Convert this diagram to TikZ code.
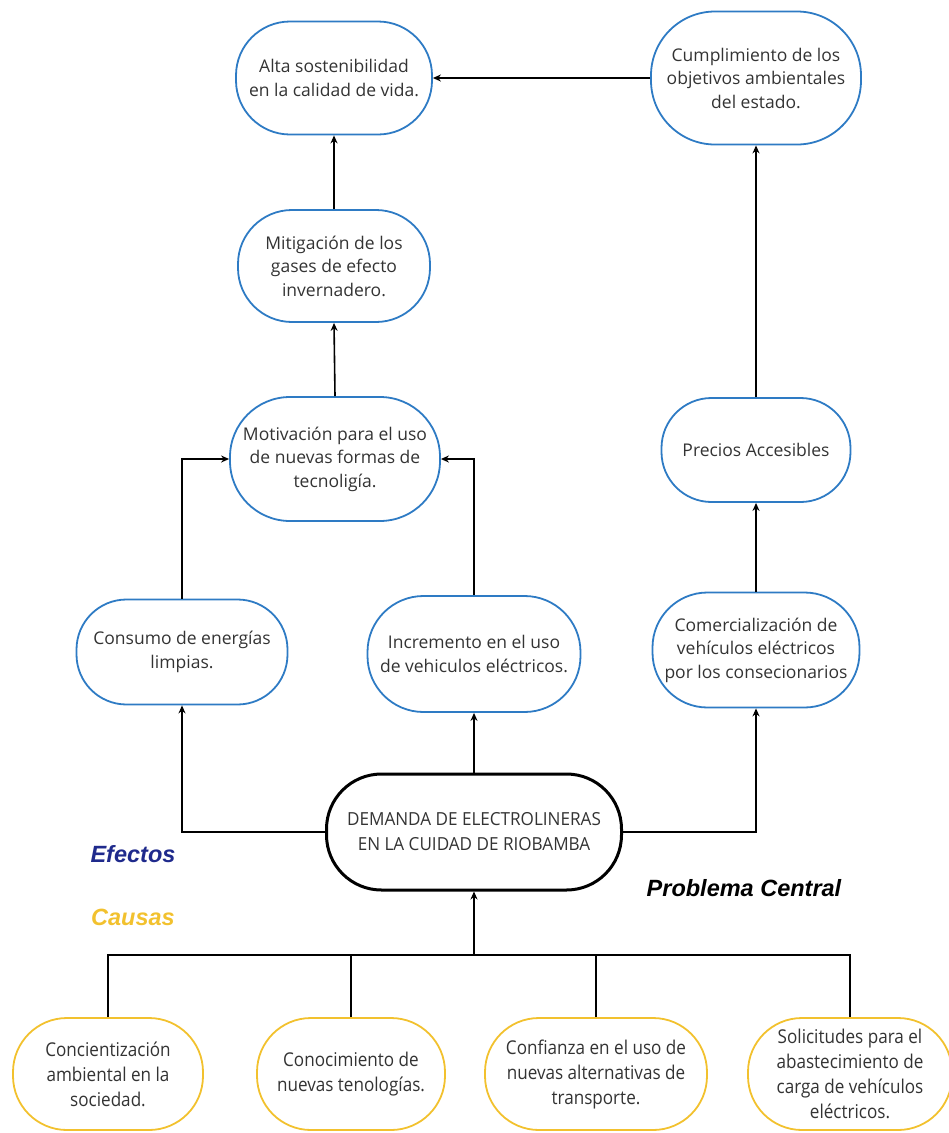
\documentclass[tikz,border=0pt]{standalone}
\usepackage{fontspec}
\setmainfont{Open Sans}
\newfontfamily\condfont[FakeStretch=0.9]{Open Sans}
\newfontfamily\centfont[FakeStretch=0.95]{Open Sans}
\newfontfamily\labfont{Liberation Sans}
\usetikzlibrary{arrows.meta}
\definecolor{nblue}{HTML}{2E7BC4}
\definecolor{ngold}{HTML}{F2C12E}
\definecolor{efblue}{HTML}{1F2A8C}
\definecolor{txt}{HTML}{333333}
\begin{document}
\begin{tikzpicture}[x=1pt,y=-1pt,
  bnode/.style={draw=nblue,line width=1.8pt,align=center,
    text=txt,font=\fontsize{17.5}{23.5}\selectfont,inner sep=0pt},
  gnode/.style={draw=ngold,line width=1.8pt,rounded corners=54pt,align=center,
    text=txt,font=\condfont\fontsize{19}{25}\selectfont,inner sep=0pt},
  cnode/.style={draw=black,line width=3pt,rounded corners=55pt,align=center,
    text=txt,font=\centfont\fontsize{18}{25}\selectfont,inner sep=0pt},
  arr/.style={line width=1.6pt,-{Stealth[length=8pt,width=7pt]}},
  ln/.style={line width=1.6pt},
  lab/.style={font=\labfont\bfseries\itshape\fontsize{23.5}{28}\selectfont}]
\useasboundingbox (0,0) rectangle (949,1133);
% effects
\node[bnode,rounded corners=54pt,minimum width=196pt,minimum height=113pt] (alta) at (334,78) {Alta sostenibilidad\\en la calidad de vida.};
\node[bnode,rounded corners=64pt,minimum width=210pt,minimum height=133pt] (cump) at (756,78) {Cumplimiento de los\\objetivos ambientales\\del estado.};
\node[bnode,rounded corners=54pt,minimum width=192pt,minimum height=112pt] (miti) at (334,266) {Mitigación de los\\gases de efecto\\invernadero.};
\node[bnode,rounded corners=60pt,minimum width=210pt,minimum height=124pt] (moti) at (335,459) {Motivación para el uso\\de nuevas formas de\\tecnoligía.};
\node[bnode,rounded corners=50pt,minimum width=189pt,minimum height=104pt] (prec) at (756,450) {Precios Accesibles};
\node[bnode,rounded corners=50pt,minimum width=211pt,minimum height=105pt] (cons) at (182,652) {Consumo de energías\\limpias.};
\node[bnode,rounded corners=56pt,minimum width=213pt,minimum height=116pt] (incr) at (474,654) {Incremento en el uso\\de vehiculos eléctricos.};
\node[bnode,rounded corners=55pt,minimum width=207pt,minimum height=115pt] (come) at (756,650) {Comercialización de\\vehículos eléctricos\\por los consecionarios};
% central
\node[cnode,minimum width=295pt,minimum height=116pt] (cent) at (474,832) {DEMANDA DE ELECTROLINERAS\\EN LA CUIDAD DE RIOBAMBA};
% causes
\node[gnode,minimum width=190pt,minimum height=112pt] (c1) at (108,1074) {Concientización\\ambiental en la\\sociedad.};
\node[gnode,minimum width=188pt,minimum height=112pt] (c2) at (351,1074) {Conocimiento de\\nuevas tenologías.};
\node[gnode,minimum width=222pt,minimum height=112pt] (c3) at (596,1074) {Confianza en el uso de\\nuevas alternativas de\\transporte.};
\node[gnode,minimum width=204pt,minimum height=112pt] (c4) at (850,1074) {Solicitudes para el\\abastecimiento de\\carga de vehículos\\eléctricos.};
% labels
\node[lab,text=efblue] (ef) at (133,854) {Efectos};
\node[lab,text=ngold] (ca) at (133,917) {Causas};
\node[lab,text=black] (pc) at (744,888) {Problema Central};
% connectors
\draw[arr] (cent.west) -| (cons.south);
\draw[arr] (cent.north) -- (incr.south);
\draw[arr] (cent.east) -| (come.south);
\draw[arr] (cons.north) |- (moti.west);
\draw[arr] (incr.north) |- (moti.east);
\draw[arr] (moti.north) -- (miti.south);
\draw[arr] (miti.north) -- (alta.south);
\draw[arr] (come.north) -- (prec.south);
\draw[arr] (prec.north) -- (cump.south);
\draw[arr] (cump.west) -- (alta.east);
\coordinate (bus) at (474,955);
\draw[ln] (c1.north) |- (bus);
\draw[ln] (c2.north) |- (bus);
\draw[ln] (c3.north) |- (bus);
\draw[ln] (c4.north) |- (bus);
\draw[arr] (bus) -- (cent.south);
\end{tikzpicture}
\end{document}
